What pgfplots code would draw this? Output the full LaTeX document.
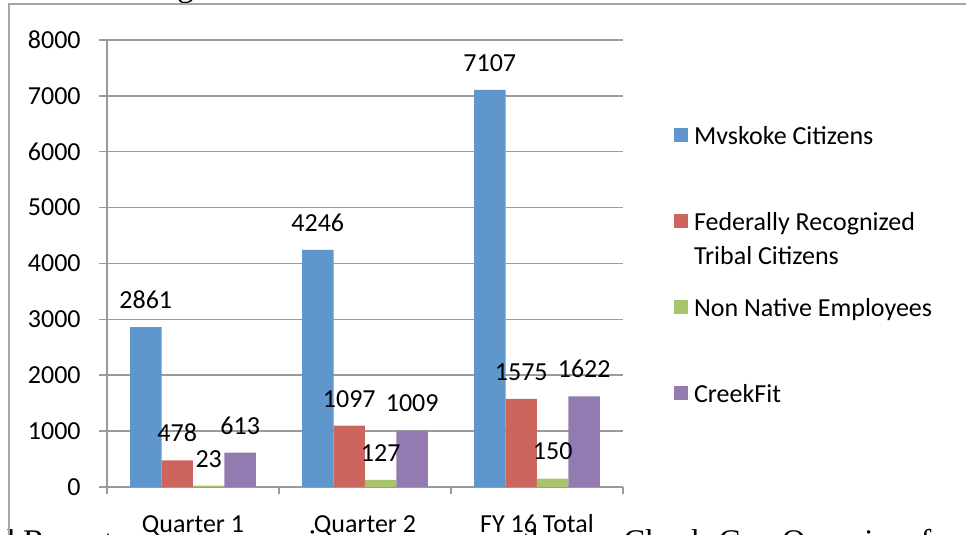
\documentclass[border=0pt]{standalone}
\usepackage{fontspec}
\setmainfont{Carlito}
\newfontfamily\bodyfont{Liberation Serif}
\usepackage{pgfplots}
\pgfplotsset{compat=1.18}

\definecolor{mvsblue}{HTML}{5F96CB}
\definecolor{fedred}{HTML}{CD655F}
\definecolor{nnegreen}{HTML}{A8C46A}
\definecolor{cfpurple}{HTML}{937BB2}
\definecolor{axisgray}{HTML}{9B9B9B}
\definecolor{framegray}{HTML}{A6A6A6}

% legend key: a small square set in the entry's own text line
\newcommand{\key}[1]{\textcolor{#1}{\rule[1.5pt]{7pt}{7pt}}\hspace{3pt}}

\begin{document}
\begin{tikzpicture}[font=\fontsize{13}{15.6}\selectfont]
\useasboundingbox (0,0) rectangle (483pt,267.5pt);

% bits of the surrounding document text, cut off by the screenshot
\node[anchor=base west, inner sep=0pt, font=\fontsize{16.5}{20}\bodyfont] at (-1pt,-9pt) {d Report as we can see in our new one, the};
\node[anchor=base west, inner sep=0pt, font=\fontsize{16.5}{20}\bodyfont] at (311.5pt,-9pt) {Check-Con Overview for};
\node[anchor=base west, inner sep=0pt, font=\fontsize{16.5}{20}\bodyfont] at (88.5pt,269pt) {g};

% chart area frame
\draw[draw=framegray, line width=1pt] (4.25pt,-2pt) -- (4.25pt,265.5pt) -- (490pt,265.5pt);

\begin{axis}[
    at={(53.5pt,24pt)}, anchor=south west,
    scale only axis,
    width=258pt, height=223.5pt,
    ybar=0pt, bar width=0.183,
    xmin=-0.5, xmax=2.5,
    ymin=0, ymax=8000,
    ytick={0,1000,...,8000},
    xtick={0,1,2},
    xticklabels={Quarter 1,Quarter 2,FY 16 Total},
    minor xtick={-0.5,0.5,1.5,2.5},
    axis x line*=bottom, axis y line*=left,
    axis line style={draw=axisgray, line width=0.75pt},
    ymajorgrids,
    grid style={draw=axisgray, line width=0.75pt},
    tick align=outside,
    major tick length=4pt, minor tick length=3.5pt,
    major x tick style={draw=none},
    minor x tick style={draw=axisgray, line width=0.75pt},
    y tick style={draw=axisgray, line width=0.75pt},
    /pgf/number format/1000 sep={},
    /pgf/number format/assume math mode=true,
    yticklabel style={anchor=east, inner sep=0pt, xshift=-9pt},
    xticklabel style={anchor=base, inner sep=0pt, yshift=-19pt},
    nodes near coords,
    every node near coord/.append style={text=black, yshift=5.7pt},
    legend image code/.code={},
    legend cell align=left,
    legend style={draw=none, fill=none, at={(1.099,0.8054)}, anchor=north west,
        inner sep=0pt, outer sep=0pt, row sep=0pt, column sep=0pt,
        nodes={inner sep=0pt, text height=9pt, text depth=34pt}},
]

\addplot[fill=mvsblue, draw=none] coordinates {(0,2861) (1,4246) (2,7107)};
\addlegendentry{\key{mvsblue}Mvskoke Citizens}

\addplot[fill=fedred, draw=none] coordinates {(0,478) (1,1097) (2,1575)};
\addlegendentry{\key{fedred}\parbox[t]{130pt}{\fontsize{13}{17}\selectfont Federally Recognized\\Tribal Citizens}}

\addplot[fill=nnegreen, draw=none] coordinates {(0,23) (1,127) (2,150)};
\addlegendentry{\key{nnegreen}Non Native Employees}

\addplot[fill=cfpurple, draw=none] coordinates {(0,613) (1,1009) (2,1622)};
\addlegendentry{\key{cfpurple}CreekFit}

\end{axis}
\end{tikzpicture}
\end{document}
